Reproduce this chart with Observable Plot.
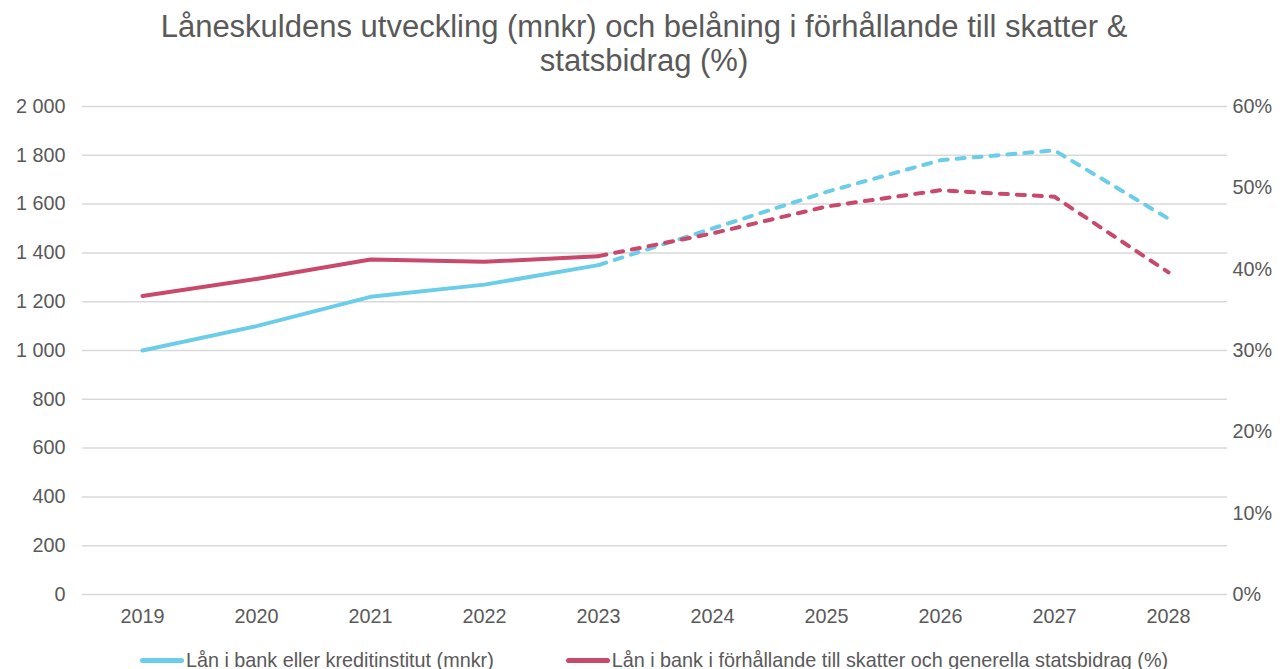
<!DOCTYPE html>
<html>
<head>
<meta charset="utf-8">
<script src="https://cdn.jsdelivr.net/npm/d3@7"></script>
<script src="https://cdn.jsdelivr.net/npm/@observablehq/plot@0.6"></script>
<style>
  html, body { margin: 0; padding: 0; background: #fff; }
  body { width: 1288px; height: 669px; overflow: hidden; font-family: "Liberation Sans", Arial, sans-serif; color: #595959; }
  #title { text-align: center; font-size: 31px; line-height: 34px; padding-top: 10px; width: 1000px; margin: 0 auto; }
  #chart svg { display: block; }
  #legend { display: flex; justify-content: center; gap: 72px; font-size: 19.8px; line-height: 20px; margin-top: 10px; margin-left: 20px; }
  .item { display: flex; align-items: center; white-space: nowrap; }
  .swatch { width: 44px; height: 5px; border-radius: 3px; margin-right: 2px; }
</style>
</head>
<body>
<div id="title">Låneskuldens utveckling (mnkr) och belåning i förhållande till skatter &amp; statsbidrag (%)</div>
<div id="chart"></div>
<div id="legend"></div>
<script>
const years = ["2019","2020","2021","2022","2023","2024","2025","2026","2027","2028"];
const loans = [1000, 1100, 1220, 1270, 1350, 1500, 1650, 1780, 1820, 1540];
const ratio = [36.7, 38.8, 41.2, 40.9, 41.6, 44.4, 47.7, 49.7, 48.9, 39.6];
const lastActualYear = "2023";
const leftTicks = [0, 200, 400, 600, 800, 1000, 1200, 1400, 1600, 1800, 2000];
const rightTicks = [0, 10, 20, 30, 40, 50, 60];
const seriesNames = ["Lån i bank eller kreditinstitut (mnkr)", "Lån i bank i förhållande till skatter och generella statsbidrag (%)"];
const colors = ["#6ccde9", "#c9496c"];

const leftMax = 2000, rightMax = 60;
const toLeft = p => p / rightMax * leftMax;

const cut = years.indexOf(lastActualYear);
const loanData = years.map((y, i) => ({year: y, value: loans[i], i}));
const ratioData = years.map((y, i) => ({year: y, value: toLeft(ratio[i]), i}));

const fmt = d => d3.format(",")(d).replace(/,/g, " ");

const lineOpts = (color, dashed) => ({
  x: "year", y: "value", stroke: color, strokeWidth: 4,
  strokeLinecap: "round", strokeLinejoin: "round",
  strokeDasharray: dashed ? "8,9" : null
});

const plot = Plot.plot({
  width: 1288,
  height: 562,
  marginLeft: 82,
  marginRight: 61,
  marginTop: 28,
  marginBottom: 46,
  style: { fontFamily: "Liberation Sans, Arial, sans-serif", fontSize: "19.8px", color: "#595959", background: "#fff" },
  x: { type: "point", domain: years, padding: 0.5, label: null },
  y: { domain: [0, leftMax], label: null },
  marks: [
    Plot.gridY(leftTicks, { stroke: "#d9d9d9", strokeOpacity: 1, strokeWidth: 1.5 }),
    Plot.axisY(leftTicks, { anchor: "left", tickSize: 0, tickPadding: 17, tickFormat: fmt, label: null, fill: "#595959" }),
    Plot.axisY(rightTicks.map(toLeft), { anchor: "right", tickSize: 0, tickPadding: 5, tickFormat: d => Math.round(d / leftMax * rightMax) + "%", label: null, fill: "#595959" }),
    Plot.axisX(years, { anchor: "bottom", tickSize: 0, tickPadding: 14, label: null, fill: "#595959" }),
    Plot.line(loanData.filter(d => d.i <= cut), lineOpts(colors[0], false)),
    Plot.line(loanData.filter(d => d.i >= cut), lineOpts(colors[0], true)),
    Plot.line(ratioData.filter(d => d.i <= cut), lineOpts(colors[1], false)),
    Plot.line(ratioData.filter(d => d.i >= cut), lineOpts(colors[1], true))
  ]
});
document.getElementById("chart").appendChild(plot);

const legend = document.getElementById("legend");
seriesNames.forEach((name, i) => {
  const item = document.createElement("div");
  item.className = "item";
  const sw = document.createElement("span");
  sw.className = "swatch";
  sw.style.background = colors[i];
  const t = document.createElement("span");
  t.textContent = name;
  item.appendChild(sw);
  item.appendChild(t);
  legend.appendChild(item);
});
</script>
</body>
</html>
